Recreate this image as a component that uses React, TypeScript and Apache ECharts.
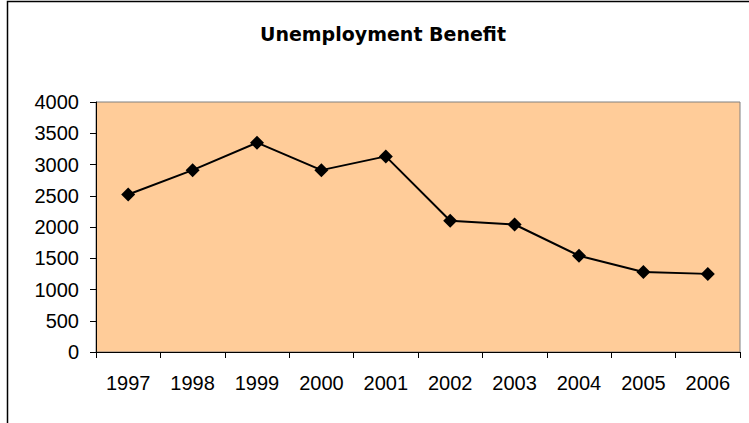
import React, { useEffect, useRef } from "react";
import * as echarts from "echarts";

const years = ["1997", "1998", "1999", "2000", "2001", "2002", "2003", "2004", "2005", "2006"];
const benefit = [2520, 2910, 3350, 2910, 3130, 2100, 2040, 1540, 1280, 1250];
const chartTitle = "Unemployment Benefit";

export default function App() {
  const ref = useRef<HTMLDivElement>(null);
  useEffect(() => {
    if (!ref.current) return;
    const chart = echarts.init(ref.current, null, { renderer: "svg" });
    chart.setOption({
      animation: false,
      backgroundColor: "#ffffff",
      title: {
        text: chartTitle,
        left: 378,
        top: 19,
        textAlign: "center",
        textStyle: {
          fontFamily: "DejaVu Sans, sans-serif",
          fontSize: 19,
          fontWeight: "bold",
          color: "#000",
        },
      },
      graphic: [
        {
          type: "polyline",
          shape: { points: [[7.5, 440], [7.5, 1.5], [760, 1.5]] },
          style: { stroke: "#000", lineWidth: 1.5, fill: "none" },
          silent: true,
        },
      ],
      grid: {
        left: 96,
        right: 9,
        top: 102,
        bottom: 71,
        show: true,
        backgroundColor: "#FFCC99",
        borderColor: "#808080",
        borderWidth: 1,
      },
      xAxis: {
        type: "category",
        data: years,
        boundaryGap: true,
        axisLine: { lineStyle: { color: "#000", width: 1 } },
        axisTick: { show: true, length: 6, inside: false, lineStyle: { color: "#000" } },
        axisLabel: {
          color: "#000",
          fontSize: 20,
          fontFamily: "Liberation Sans, Arial, sans-serif",
          margin: 21,
        },
        splitLine: { show: false },
      },
      yAxis: {
        type: "value",
        min: 0,
        max: 4000,
        interval: 500,
        axisLine: { show: true, lineStyle: { color: "#000", width: 1 } },
        axisTick: { show: true, length: 6, lineStyle: { color: "#000" } },
        axisLabel: {
          color: "#000",
          fontSize: 20,
          fontFamily: "Liberation Sans, Arial, sans-serif",
          margin: 17,
          formatter: (v: number) => String(v),
        },
        splitLine: { show: false },
      },
      series: [
        {
          type: "line",
          data: benefit,
          symbol: "diamond",
          symbolSize: 14,
          itemStyle: { color: "#000" },
          lineStyle: { color: "#000", width: 2 },
        },
      ],
    });
    return () => chart.dispose();
  }, []);
  return (
    <div
      ref={ref}
      style={{ position: "fixed", left: 0, top: 0, width: 749, height: 423 }}
    />
  );
}
